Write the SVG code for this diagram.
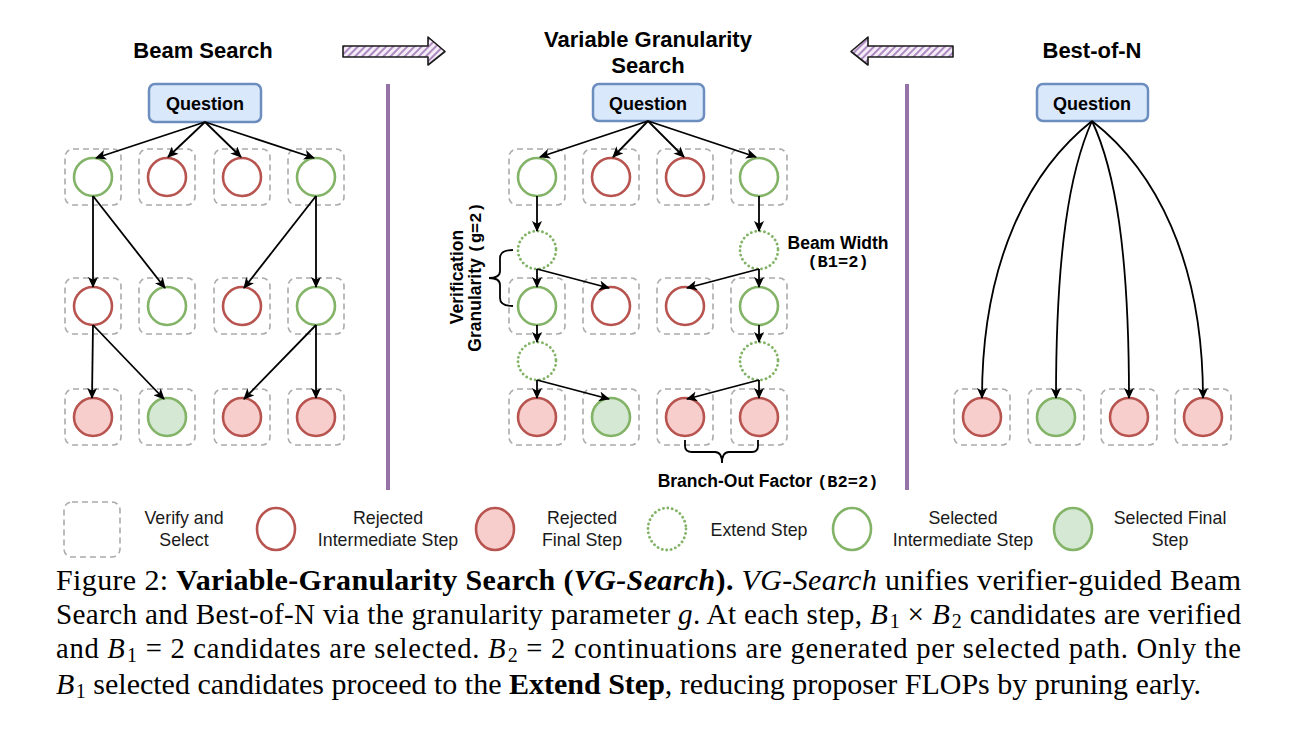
<svg xmlns="http://www.w3.org/2000/svg" width="1296" height="741" viewBox="0 0 1296 741">
<style>
.bg{fill:#ffffff}
.title{font-family:"Liberation Sans",Arial,sans-serif;font-weight:bold;font-size:22px;fill:#000;text-anchor:middle}
.q{fill:#DAE8FC;stroke:#6C8EBF;stroke-width:2.5}
.qt{font-family:"Liberation Sans",Arial,sans-serif;font-weight:bold;font-size:18px;fill:#000;text-anchor:middle}
.box{fill:none;stroke:#ABABAB;stroke-width:1.6;stroke-dasharray:6 4}
.ri{fill:#fff;stroke:#B85450;stroke-width:2.6}
.rf{fill:#F8CECC;stroke:#B85450;stroke-width:2.6}
.gi{fill:#fff;stroke:#82B366;stroke-width:2.6}
.gf{fill:#D5E8D4;stroke:#82B366;stroke-width:2.6}
.ext{fill:#fff;stroke:#82B366;stroke-width:2.8;stroke-dasharray:0.1 4.4;stroke-linecap:round}
.e{fill:none;stroke:#000;stroke-width:1.8;marker-end:url(#ah)}
.br{fill:none;stroke:#000;stroke-width:1.8}
.div{stroke:#9673A6;stroke-width:4}
.ann{font-family:"Liberation Sans",Arial,sans-serif;font-weight:bold;font-size:17.5px;fill:#000}
.mono{font-family:"Liberation Mono","DejaVu Sans Mono",monospace;font-weight:bold;font-size:17px}
.leg{font-family:"Liberation Sans",Arial,sans-serif;font-size:17.8px;fill:#1a1a1a;text-anchor:middle}
.cap{font-family:"Liberation Serif","Times New Roman",serif;font-size:30px;fill:#000}
.cap2{font-size:29.2px}
.cap3{font-size:28.6px}
.b{font-weight:bold}
.i{font-style:italic}
.sub{font-size:20px}
.fat{fill:url(#hatch);stroke:#1a1a1a;stroke-width:1.6;stroke-linejoin:round}
</style>
<defs>
<marker id="ah" markerWidth="11" markerHeight="10" refX="10" refY="5" orient="auto" markerUnits="userSpaceOnUse">
<path d="M0,0 L11,5 L0,10 L2.8,5 Z" fill="#000"/>
</marker>
<pattern id="hatch" patternUnits="userSpaceOnUse" width="5" height="5" patternTransform="rotate(45)">
<rect width="5" height="5" fill="#F4ECF8"/>
<line x1="1" y1="0" x2="1" y2="5" stroke="#A680B8" stroke-width="1.8"/>
</pattern>
</defs>
<rect class="bg" x="0" y="0" width="1296" height="741"/>

<g id="titles">
<text class="title" x="203" y="58">Beam Search</text>
<text class="title" x="648" y="47">Variable Granularity</text>
<text class="title" x="648" y="73">Search</text>
<text class="title" x="1092" y="58">Best-of-N</text>
</g>

<g id="big-arrows">
<path class="fat" d="M343,46 L428,46 L428,37 L445,51.5 L428,65 L428,57 L343,57 Z"/>
<path class="fat" d="M953,46 L868,46 L868,37 L851,51.5 L868,65 L868,57 L953,57 Z"/>
</g>

<g id="dividers">
<line class="div" x1="388" y1="84" x2="388" y2="490"/>
<line class="div" x1="907" y1="84" x2="907" y2="490"/>
</g>

<!-- Beam Search column -->
<g id="bs-question"><rect class="q" x="149" y="84" width="112" height="38" rx="6"/><text class="qt" x="205" y="110">Question</text></g>
<g id="bs-r1">
<rect class="box" x="65" y="149" width="56" height="56" rx="8"/><circle class="gi" cx="93" cy="177" r="19"/>
<rect class="box" x="139" y="149" width="56" height="56" rx="8"/><circle class="ri" cx="167" cy="177" r="19"/>
<rect class="box" x="214" y="149" width="56" height="56" rx="8"/><circle class="ri" cx="242" cy="177" r="19"/>
<rect class="box" x="288" y="149" width="56" height="56" rx="8"/><circle class="gi" cx="316" cy="177" r="19"/>
</g>
<g id="bs-r2">
<rect class="box" x="65" y="278" width="56" height="56" rx="8"/><circle class="ri" cx="93" cy="306" r="19"/>
<rect class="box" x="139" y="278" width="56" height="56" rx="8"/><circle class="gi" cx="167" cy="306" r="19"/>
<rect class="box" x="214" y="278" width="56" height="56" rx="8"/><circle class="ri" cx="242" cy="306" r="19"/>
<rect class="box" x="288" y="278" width="56" height="56" rx="8"/><circle class="gi" cx="316" cy="306" r="19"/>
</g>
<g id="bs-r3">
<rect class="box" x="65" y="389" width="56" height="56" rx="8"/><circle class="rf" cx="93" cy="417" r="19"/>
<rect class="box" x="139" y="389" width="56" height="56" rx="8"/><circle class="gf" cx="167" cy="417" r="19"/>
<rect class="box" x="214" y="389" width="56" height="56" rx="8"/><circle class="rf" cx="242" cy="417" r="19"/>
<rect class="box" x="288" y="389" width="56" height="56" rx="8"/><circle class="rf" cx="316" cy="417" r="19"/>
</g>

<!-- VG Search column -->
<g id="vg-question"><rect class="q" x="593" y="84" width="111" height="37" rx="6"/><text class="qt" x="648" y="110">Question</text></g>
<g id="vg-r1">
<rect class="box" x="509" y="149" width="56" height="56" rx="8"/><circle class="gi" cx="537" cy="177" r="19"/>
<rect class="box" x="583" y="149" width="56" height="56" rx="8"/><circle class="ri" cx="611" cy="177" r="19"/>
<rect class="box" x="657" y="149" width="56" height="56" rx="8"/><circle class="ri" cx="685" cy="177" r="19"/>
<rect class="box" x="731" y="149" width="56" height="56" rx="8"/><circle class="gi" cx="759" cy="177" r="19"/>
</g>
<g id="vg-ext1">
<circle class="ext" cx="537" cy="250" r="19"/>
<circle class="ext" cx="759" cy="250" r="19"/>
</g>
<g id="vg-r2">
<rect class="box" x="509" y="278" width="56" height="56" rx="8"/><circle class="gi" cx="537" cy="306" r="19"/>
<rect class="box" x="583" y="278" width="56" height="56" rx="8"/><circle class="ri" cx="611" cy="306" r="19"/>
<rect class="box" x="657" y="278" width="56" height="56" rx="8"/><circle class="ri" cx="685" cy="306" r="19"/>
<rect class="box" x="731" y="278" width="56" height="56" rx="8"/><circle class="gi" cx="759" cy="306" r="19"/>
</g>
<g id="vg-ext2">
<circle class="ext" cx="537" cy="361" r="19"/>
<circle class="ext" cx="759" cy="361" r="19"/>
</g>
<g id="vg-r3">
<rect class="box" x="509" y="389" width="56" height="56" rx="8"/><circle class="rf" cx="537" cy="417" r="19"/>
<rect class="box" x="583" y="389" width="56" height="56" rx="8"/><circle class="gf" cx="611" cy="417" r="19"/>
<rect class="box" x="657" y="389" width="56" height="56" rx="8"/><circle class="rf" cx="685" cy="417" r="19"/>
<rect class="box" x="731" y="389" width="56" height="56" rx="8"/><circle class="rf" cx="759" cy="417" r="19"/>
</g>

<g id="vg-annotations">
<text class="ann" transform="translate(463,277) rotate(-90)" text-anchor="middle">Verification</text>
<text class="ann" transform="translate(481,277) rotate(-90)" text-anchor="middle">Granularity <tspan class="mono">(g=2)</tspan></text>
<path class="br" d="M513,250 Q500,250 500,258 L500,271 Q500,278 489,278 Q500,278 500,285 L500,298 Q500,306 513,306"/>
<text class="ann" x="838" y="249" text-anchor="middle">Beam Width</text>
<text class="ann mono" x="838" y="267" text-anchor="middle">(B1=2)</text>
<path class="br" d="M685,440 L685,446 Q685,452 692,452 L715,452 Q722,452 722,463 Q722,452 729,452 L752,452 Q758,452 758,446 L758,440"/>
<text class="ann" x="768" y="487" text-anchor="middle">Branch-Out Factor <tspan class="mono">(B2=2)</tspan></text>
</g>

<!-- Best-of-N column -->
<g id="bon-question"><rect class="q" x="1037" y="84" width="111" height="37" rx="6"/><text class="qt" x="1092" y="110">Question</text></g>
<g id="bon-r3">
<rect class="box" x="954" y="389" width="56" height="56" rx="8"/><circle class="rf" cx="982" cy="417" r="19"/>
<rect class="box" x="1028" y="389" width="56" height="56" rx="8"/><circle class="gf" cx="1056" cy="417" r="19"/>
<rect class="box" x="1101" y="389" width="56" height="56" rx="8"/><circle class="rf" cx="1129" cy="417" r="19"/>
<rect class="box" x="1175" y="389" width="56" height="56" rx="8"/><circle class="rf" cx="1203" cy="417" r="19"/>
</g>

<g id="connectors">
<!-- beam search -->
<path class="e" d="M205,122 L96,158"/>
<path class="e" d="M205,122 L168,157"/>
<path class="e" d="M205,122 L241,157"/>
<path class="e" d="M205,122 L314,158"/>
<path class="e" d="M93,196 L93,287"/>
<path class="e" d="M93,196 L165,288"/>
<path class="e" d="M316,196 L244,288"/>
<path class="e" d="M316,196 L316,287"/>
<path class="e" d="M93,325 L92,398"/>
<path class="e" d="M93,325 L164,399"/>
<path class="e" d="M316,325 L244,399"/>
<path class="e" d="M316,325 L316,398"/>
<!-- vg search -->
<path class="e" d="M648,121 L540,157"/>
<path class="e" d="M648,121 L613,157"/>
<path class="e" d="M648,121 L684,157"/>
<path class="e" d="M648,121 L756,157"/>
<path class="e" d="M537,196 L537,231"/>
<path class="e" d="M759,196 L759,231"/>
<path class="e" d="M537,269 L537,287"/>
<path class="e" d="M537,269 L609,288"/>
<path class="e" d="M759,269 L759,287"/>
<path class="e" d="M759,269 L687,288"/>
<path class="e" d="M537,325 L537,342"/>
<path class="e" d="M759,325 L759,342"/>
<path class="e" d="M537,380 L537,398"/>
<path class="e" d="M537,380 L609,399"/>
<path class="e" d="M759,380 L759,398"/>
<path class="e" d="M759,380 L687,399"/>
<!-- best of n -->
<path class="e" d="M1092,121 C1030,170 982,260 982,398"/>
<path class="e" d="M1092,121 C1070,170 1056,250 1056,398"/>
<path class="e" d="M1092,121 C1115,170 1129,250 1129,398"/>
<path class="e" d="M1092,121 C1155,170 1203,260 1203,398"/>
</g>

<g id="legend">
<g id="leg-verify"><rect class="box" x="64" y="502" width="56" height="55" rx="8"/><text class="leg" x="184" y="524">Verify and</text><text class="leg" x="184" y="546">Select</text></g>
<g id="leg-rej-int"><ellipse class="ri" cx="276" cy="529" rx="19" ry="21"/><text class="leg" x="388" y="524">Rejected</text><text class="leg" x="388" y="546">Intermediate Step</text></g>
<g id="leg-rej-fin"><ellipse class="rf" cx="495" cy="529" rx="19" ry="21"/><text class="leg" x="582" y="524">Rejected</text><text class="leg" x="582" y="546">Final Step</text></g>
<g id="leg-ext"><ellipse class="ext" cx="667" cy="529" rx="19" ry="21"/><text class="leg" x="759" y="536">Extend Step</text></g>
<g id="leg-sel-int"><ellipse class="gi" cx="852" cy="529" rx="19" ry="21"/><text class="leg" x="963" y="524">Selected</text><text class="leg" x="963" y="546">Intermediate Step</text></g>
<g id="leg-sel-fin"><ellipse class="gf" cx="1073" cy="529" rx="19" ry="21"/><text class="leg" x="1170" y="524">Selected Final</text><text class="leg" x="1170" y="546">Step</text></g>
</g>

<g id="caption">
<text class="cap" x="56" y="590" textLength="1185" lengthAdjust="spacing">Figure 2: <tspan class="b">Variable-Granularity Search (</tspan><tspan class="b i">VG-Search</tspan><tspan class="b">).</tspan> <tspan class="i">VG-Search</tspan> unifies verifier-guided Beam</text>
<text class="cap cap2" x="56" y="624" textLength="1185" lengthAdjust="spacing">Search and Best-of-N via the granularity parameter <tspan class="i">g</tspan>. At each step, <tspan class="i">B</tspan><tspan class="sub" dx="1.5" dy="4">1</tspan><tspan dy="-4"> × </tspan><tspan class="i">B</tspan><tspan class="sub" dx="1.5" dy="4">2</tspan><tspan dy="-4"> candidates are verified</tspan></text>
<text class="cap cap3" x="56" y="658" textLength="1185" lengthAdjust="spacing">and <tspan class="i">B</tspan><tspan class="sub" dx="1.5" dy="4">1</tspan><tspan dy="-4"> = 2 candidates are selected. </tspan><tspan class="i">B</tspan><tspan class="sub" dx="1.5" dy="4">2</tspan><tspan dy="-4"> = 2 continuations are generated per selected path. Only the</tspan></text>
<text class="cap" x="56" y="693.5"><tspan class="i">B</tspan><tspan class="sub" dx="1.5" dy="4">1</tspan><tspan dy="-4"> selected candidates proceed to the </tspan><tspan class="b">Extend Step</tspan>, reducing proposer FLOPs by pruning early.</text>
</g>
</svg>
